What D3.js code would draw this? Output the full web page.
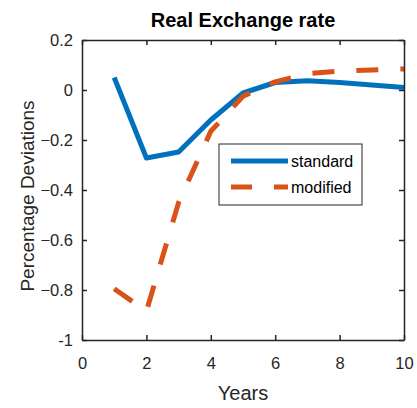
<!DOCTYPE html>
<html>
<head>
<meta charset="utf-8">
<script src="https://cdn.jsdelivr.net/npm/d3@7"></script>
<style>
  body { margin: 0; background: #fff; }
  text { font-family: "Liberation Sans", Arial, sans-serif; }
</style>
</head>
<body>
<div id="chart"></div>
<script>
// data
var years = [1, 2, 3, 4, 5, 6, 7, 8, 9, 10];
var standard = [0.05, -0.272, -0.248, -0.12, -0.012, 0.03, 0.037, 0.03, 0.02, 0.01];
var modified = [-0.795, -0.885, -0.45, -0.165, -0.025, 0.033, 0.065, 0.076, 0.08, 0.084];
var xTicks = [0, 2, 4, 6, 8, 10];
var yTicks = [0.2, 0, -0.2, -0.4, -0.6, -0.8, -1];
var seriesNames = ["standard", "modified"];

var width = 417, height = 408;
var plotLeft = 82, plotRight = 404, plotTop = 40, plotBottom = 340;
var axisCol = "#262626";

var svg = d3.select("#chart")
  .append("svg")
  .attr("width", width)
  .attr("height", height);

var x = d3.scaleLinear().domain([0, 10]).range([plotLeft, plotRight]);
var y = d3.scaleLinear().domain([-1, 0.2]).range([plotBottom, plotTop]);

// lines
var line = d3.line()
  .x(function(d, i) { return x(years[i]); })
  .y(function(d) { return y(d); });

svg.append("path")
  .attr("d", line(standard))
  .attr("fill", "none")
  .attr("stroke", "#0072BD")
  .attr("stroke-width", 5)
  .attr("stroke-linejoin", "round");

svg.append("path")
  .attr("d", line(modified))
  .attr("fill", "none")
  .attr("stroke", "#D95319")
  .attr("stroke-width", 5)
  .attr("stroke-dasharray", "22,22");

// axes box with inward ticks
var xAxisB = d3.axisBottom(x).tickValues(xTicks).tickSizeInner(-5).tickSizeOuter(0).tickPadding(17).tickFormat(d3.format("d"));
var xAxisT = d3.axisTop(x).tickValues(xTicks).tickSizeInner(-5).tickSizeOuter(0).tickFormat("");
var yAxisL = d3.axisLeft(y).tickValues(yTicks).tickSizeInner(-5).tickSizeOuter(0).tickPadding(9)
  .tickFormat(function(d) { return d === 0 ? "0" : d === -1 ? "-1" : d3.format(".1f")(d); });
var yAxisR = d3.axisRight(y).tickValues(yTicks).tickSizeInner(-5).tickSizeOuter(0).tickFormat("");

function styleAxis(g) {
  g.select(".domain").attr("stroke", axisCol).attr("stroke-width", 1.5);
  g.selectAll(".tick line").attr("stroke", axisCol).attr("stroke-width", 1.5);
  g.selectAll(".tick text").attr("fill", axisCol).style("font-size", "16.5px")
    .style("font-family", "'Liberation Sans', Arial, sans-serif");
}

svg.append("g").attr("transform", "translate(0," + plotBottom + ")").call(xAxisB).call(styleAxis);
svg.append("g").attr("transform", "translate(0," + plotTop + ")").call(xAxisT).call(styleAxis);
svg.append("g").attr("transform", "translate(" + plotLeft + ",0)").call(yAxisL).call(styleAxis);
svg.append("g").attr("transform", "translate(" + plotRight + ",0)").call(yAxisR).call(styleAxis);

// title and axis labels
svg.append("text")
  .attr("x", (plotLeft + plotRight) / 2)
  .attr("y", 27)
  .attr("text-anchor", "middle")
  .attr("font-weight", "bold")
  .style("font-size", "20px")
  .attr("fill", "#000")
  .text("Real Exchange rate");

svg.append("text")
  .attr("x", (plotLeft + plotRight) / 2)
  .attr("y", 400)
  .attr("text-anchor", "middle")
  .style("font-size", "20px")
  .attr("fill", axisCol)
  .text("Years");

svg.append("text")
  .attr("transform", "translate(34," + ((plotTop + plotBottom) / 2 + 6) + ") rotate(-90)")
  .attr("text-anchor", "middle")
  .style("font-size", "19px")
  .attr("fill", axisCol)
  .text("Percentage Deviations");

// legend
var legend = svg.append("g").attr("transform", "translate(219,144)");
legend.append("rect")
  .attr("width", 143)
  .attr("height", 61)
  .attr("fill", "#fff")
  .attr("stroke", axisCol)
  .attr("stroke-width", 1);

var legCols = ["#0072BD", "#D95319"];
var legDash = [null, "21,22"];
seriesNames.forEach(function(name, i) {
  var ly = 17 + i * 26;
  legend.append("line")
    .attr("x1", 12).attr("x2", 69)
    .attr("y1", ly).attr("y2", ly)
    .attr("stroke", legCols[i])
    .attr("stroke-width", 5)
    .attr("stroke-dasharray", legDash[i]);
  legend.append("text")
    .attr("x", 72)
    .attr("y", ly + 6)
    .style("font-size", "16px")
    .attr("fill", "#000")
    .text(name);
});
</script>
</body>
</html>
